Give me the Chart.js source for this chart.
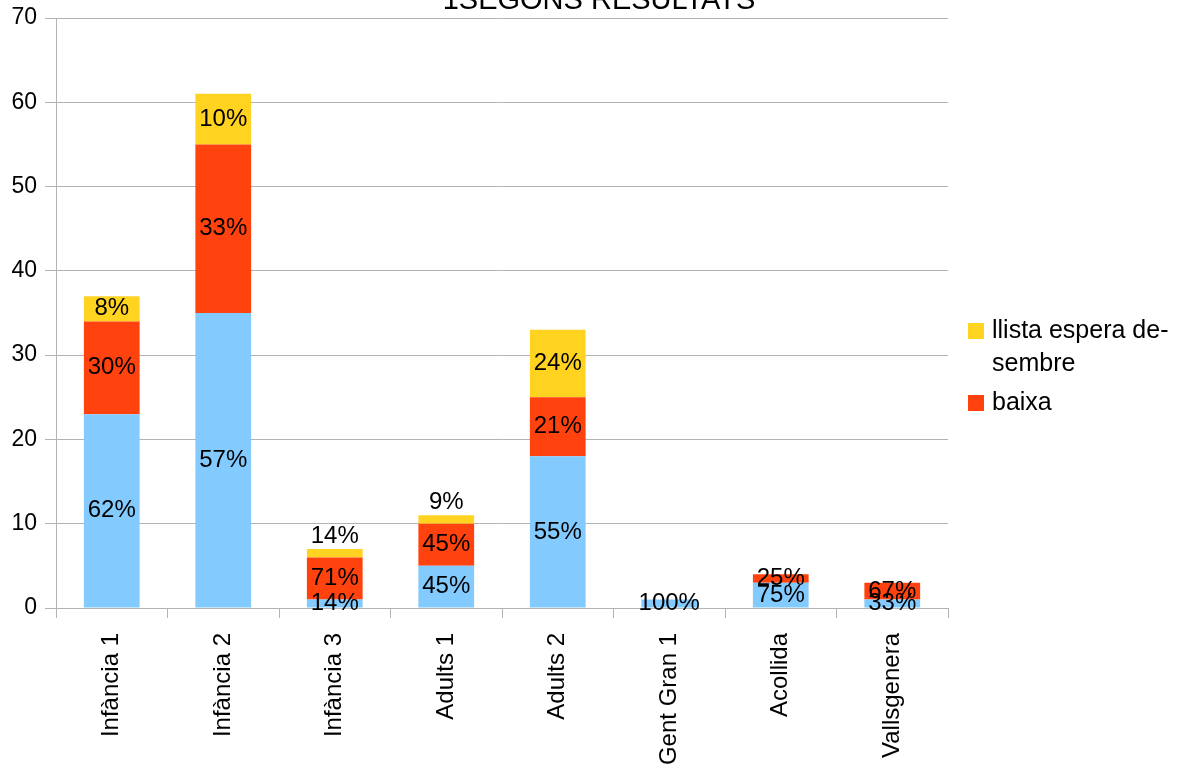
<!DOCTYPE html>
<html>
<head>
<meta charset="utf-8">
<script src="https://cdn.jsdelivr.net/npm/chart.js@4.4.0/dist/chart.umd.min.js"></script>
<style>
  html, body { margin: 0; padding: 0; background: #fff; overflow: hidden; }
  #wrap { width: 1183px; height: 767px; position: relative; }
</style>
</head>
<body>
<div id="wrap"><canvas id="chart"></canvas></div>
<script>
// data
const categories = ['Infància 1', 'Infància 2', 'Infància 3', 'Adults 1', 'Adults 2', 'Gent Gran 1', 'Acollida', 'Vallsgenera'];
const restaValues = [23, 35, 1, 5, 18, 1, 3, 1];
const baixaValues = [11, 20, 5, 5, 7, 0, 1, 2];
const esperaValues = [3, 6, 1, 1, 8, 0, 0, 0];
const yTicks = [0, 10, 20, 30, 40, 50, 60, 70];
const chartTitle = '1SEGONS RESULTATS';
const legendLines = [['llista espera de-', 'sembre'], ['baixa']];

const FONT = '"Liberation Sans", Arial, sans-serif';
const GRID = '#b3b3b3';

const ctx = document.getElementById('chart').getContext('2d');

// title sits half off the top edge, like the original
const titlePlugin = {
  id: 'cutTitle',
  afterDraw(chart) {
    const c = chart.ctx;
    c.save();
    c.font = '29px ' + FONT;
    c.fillStyle = '#000';
    c.textAlign = 'center';
    c.textBaseline = 'alphabetic';
    c.fillText(chartTitle, 599, 9);
    c.restore();
  }
};

// percentage of the bar total, in the middle of each segment
const percentLabels = {
  id: 'percentLabels',
  afterDatasetsDraw(chart) {
    const c = chart.ctx;
    const sets = chart.data.datasets;
    c.save();
    c.font = '24px ' + FONT;
    c.fillStyle = '#000';
    c.textAlign = 'center';
    c.textBaseline = 'middle';
    sets.forEach((ds, di) => {
      const meta = chart.getDatasetMeta(di);
      meta.data.forEach((bar, i) => {
        const v = ds.data[i];
        if (!v) return;
        const total = sets.reduce((s, d) => s + d.data[i], 0);
        const txt = Math.round(v / total * 100) + '%';
        let y = (bar.y + bar.base) / 2;
        if (di === sets.length - 1 && bar.base - bar.y < 20) y = bar.y - 13;
        c.fillText(txt, bar.x, y);
      });
    });
    c.restore();
  }
};

const sideLegend = {
  id: 'sideLegend',
  afterDraw(chart) {
    const c = chart.ctx;
    const sets = chart.data.datasets;
    c.save();
    c.font = '25px ' + FONT;
    c.textBaseline = 'middle';
    c.textAlign = 'left';
    let y = 331;
    [2, 1].forEach((di, k) => {
      c.fillStyle = sets[di].backgroundColor;
      c.fillRect(968, y - 8, 16, 16);
      c.fillStyle = '#000';
      legendLines[k].forEach((line, j) => {
        c.fillText(line, 992, y + j * 33);
      });
      y += legendLines[k].length * 33 + 6;
    });
    c.restore();
  }
};

new Chart(ctx, {
  type: 'bar',
  data: {
    labels: categories,
    datasets: [
      { label: 'resta', data: restaValues, backgroundColor: '#83caff' },
      { label: 'baixa', data: baixaValues, backgroundColor: '#ff420e' },
      { label: 'llista espera desembre', data: esperaValues, backgroundColor: '#ffd320' }
    ]
  },
  options: {
    responsive: true,
    maintainAspectRatio: false,
    animation: false,
    datasets: { bar: { barPercentage: 1, categoryPercentage: 0.5 } },
    layout: { padding: { top: 18, right: 235, left: 0, bottom: 0 } },
    scales: {
      x: {
        stacked: true,
        afterFit(scale) {
          scale.height = 159;
          scale.paddingLeft = 0;
          scale.paddingRight = 0;
        },
        grid: {
          offset: true,
          color: (c) => (c.index === 0 || c.index === categories.length) ? GRID : 'rgba(0,0,0,0)',
          tickColor: GRID,
          tickLength: 10,
          lineWidth: 1
        },
        border: { color: GRID },
        ticks: {
          minRotation: 90,
          maxRotation: 90,
          autoSkip: false,
          padding: 15,
          color: '#000',
          font: { family: FONT, size: 24 }
        }
      },
      y: {
        stacked: true,
        min: 0,
        max: 70,
        afterFit(scale) {
          scale.width = 56;
          scale.paddingTop = 0;
          scale.paddingBottom = 0;
        },
        afterBuildTicks(scale) { scale.ticks = yTicks.map(v => ({ value: v })); },
        grid: { color: GRID, tickColor: GRID, tickLength: 11 },
        border: { color: GRID },
        ticks: {
          padding: 8,
          color: '#000',
          font: { family: FONT, size: 23 }
        }
      }
    },
    plugins: {
      legend: { display: false },
      title: { display: false },
      tooltip: { enabled: false }
    }
  },
  plugins: [titlePlugin, percentLabels, sideLegend]
});
</script>
</body>
</html>
